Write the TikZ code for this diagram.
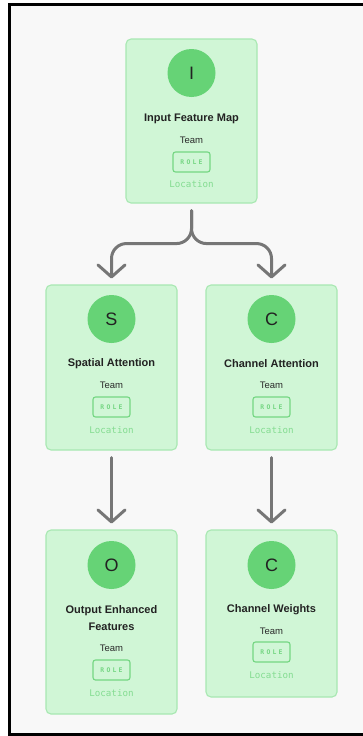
\documentclass[tikz,border=0pt]{standalone}
\usepackage{fontspec}
\setmainfont{Liberation Sans}
\newfontfamily\monofont{DejaVu Sans Mono}
\newfontfamily\rolefont[LetterSpace=35]{DejaVu Sans Mono Bold}
\usetikzlibrary{arrows.meta}

\definecolor{pagebg}{HTML}{F8F8F8}
\definecolor{cardfill}{HTML}{D0F6D6}
\definecolor{cardline}{HTML}{A8E8B2}
\definecolor{circfill}{HTML}{66D376}
\definecolor{ink}{HTML}{222222}
\definecolor{ink2}{HTML}{2A2A2A}
\definecolor{rolegreen}{HTML}{74D682}
\definecolor{locgreen}{HTML}{84DC91}
\definecolor{arrowgray}{HTML}{767676}

\begin{document}
\begin{tikzpicture}[x=1pt, y=-1pt,
  card/.style={draw=cardline, fill=cardfill, line width=1.1pt, rounded corners=5pt,
    minimum width=131pt, inner sep=0pt},
  badge/.style={circle, fill=circfill, minimum size=48pt, inner sep=0pt,
    font=\fontsize{18}{18}\selectfont, text=ink},
  title/.style={font=\fontsize{11}{17}\selectfont\bfseries, text=ink, align=center, inner sep=0pt},
  team/.style={font=\fontsize{9.5}{11}\selectfont, text=ink2, inner sep=0pt},
  rolebox/.style={draw=rolegreen, line width=1.1pt, rounded corners=2.5pt,
    minimum width=37pt, minimum height=20pt, inner sep=0pt,
    font=\rolefont\fontsize{6.4}{7}\selectfont, text=rolegreen},
  loc/.style={font=\monofont\fontsize{9.2}{10}\selectfont, text=locgreen, inner sep=0pt},
  conn/.style={draw=arrowgray, line width=3pt, line cap=round,
    -{Straight Barb[length=12pt, width=27pt, round]},
    shorten <=7pt, shorten >=6pt}
]
\useasboundingbox (0,0) rectangle (362,736);

% page and frame
\fill[white] (0,0) rectangle (362,736);
\fill[pagebg] (9.3,4.6) rectangle (370,734.5);
\draw[black, line width=3.5pt] (9.3,4.6) rectangle (370,734.5);

% cards
\node[card, minimum height=164pt] (inp) at (191.5,121) {};
\node[card, minimum height=165pt] (spa) at (111.5,367.5) {};
\node[card, minimum height=165pt] (cha) at (271.5,367.5) {};
\node[card, minimum height=184pt] (out) at (111.5,622) {};
\node[card, minimum height=167pt] (wei) at (271.5,613.5) {};

% Input Feature Map
\node[badge] (inpc) at (191.5,73) {I};
\node[title] (inpt) at (191.5,119) {Input Feature Map};
\node[team] (inpm) at (191.5,140) {Team};
\node[rolebox] (inpr) at (191.5,162) {ROLE};
\node[loc] (inpl) at (191.5,184) {Location};

% Spatial Attention
\node[badge] (spac) at (111.5,319) {S};
\node[title] (spat) at (111.5,364) {Spatial Attention};
\node[team] (spam) at (111.5,385) {Team};
\node[rolebox] (spar) at (111.5,407) {ROLE};
\node[loc] (spal) at (111.5,430) {Location};

% Channel Attention
\node[badge] (chac) at (271.5,319) {C};
\node[title] (chat) at (271.5,364) {Channel Attention};
\node[team] (cham) at (271.5,385) {Team};
\node[rolebox] (char) at (271.5,407) {ROLE};
\node[loc] (chal) at (271.5,430) {Location};

% Output Enhanced Features
\node[badge] (outc) at (111.5,565) {O};
\node[title] (outt) at (111.5,618.5) {Output Enhanced\\Features};
\node[team] (outm) at (111.5,648) {Team};
\node[rolebox] (outr) at (111.5,670) {ROLE};
\node[loc] (outl) at (111.5,693) {Location};

% Channel Weights
\node[badge] (weic) at (271.5,565) {C};
\node[title] (weit) at (271.5,610) {Channel Weights};
\node[team] (weim) at (271.5,631) {Team};
\node[rolebox] (weir) at (271.5,652) {ROLE};
\node[loc] (weil) at (271.5,675) {Location};

% connectors
\draw[conn, rounded corners=15pt] (inp.south) -- ++(0,40) -| (spa.north);
\draw[conn, rounded corners=15pt] (inp.south) -- ++(0,40) -| (cha.north);
\draw[conn] (spa.south) -- (out.north);
\draw[conn] (cha.south) -- (wei.north);
\end{tikzpicture}
\end{document}
